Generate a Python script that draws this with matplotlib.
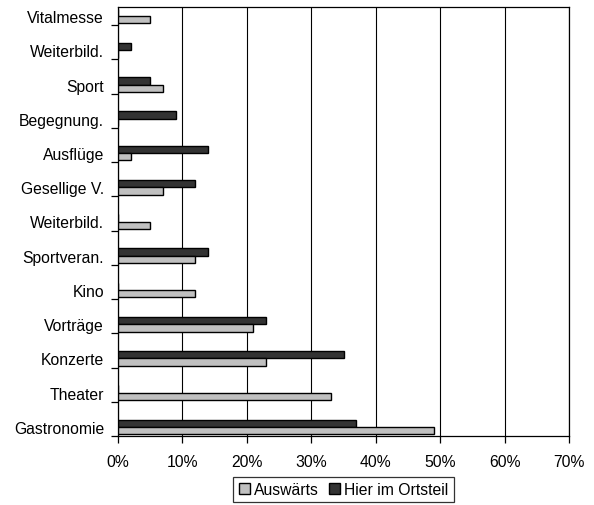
import matplotlib
matplotlib.use("Agg")
import matplotlib.pyplot as plt
from matplotlib.patches import Patch
import numpy as np

plt.rcParams['font.family'] = ['Liberation Sans', 'DejaVu Sans']

categories = ["Gastronomie", "Theater", "Konzerte", "Vorträge", "Kino", "Sportveran.",
              "Weiterbild.", "Gesellige V.", "Ausflüge", "Begegnung.", "Sport",
              "Weiterbild.", "Vitalmesse"]
auswaerts = [49, 33, 23, 21, 12, 12, 5, 7, 2, 0, 7, 0, 5]
hier = [37, 0, 35, 23, 0, 14, 0, 12, 14, 9, 5, 2, 0]
xticks = [0, 10, 20, 30, 40, 50, 60, 70]
xticklabels = ["0%", "10%", "20%", "30%", "40%", "50%", "60%", "70%"]

fig = plt.figure(figsize=(5.94, 5.06), dpi=100)
ax = fig.add_axes([118/594, 1-437/506, (569-118)/594, (437-8)/506])

y = np.arange(len(categories))
h = 0.215
ax.barh(y + h/2, hier, height=h, color="#333333", edgecolor="black", linewidth=1.0, zorder=3)
ax.barh(y - h/2, auswaerts, height=h, color="#c0c0c0", edgecolor="black", linewidth=1.0, zorder=3)

off = 9/34.2
ax.set_ylim(-off, len(categories) - 1 + off)
ax.set_xlim(0, 70)

ax.set_yticks(y - off)
ax.set_yticklabels([])
ax.set_yticks(y, minor=True)
ax.set_yticklabels(categories, minor=True, fontsize=11.3)
ax.tick_params(axis='y', which='major', length=5, width=0.9, direction='out')
ax.tick_params(axis='y', which='minor', length=0, pad=10)

ax.set_xticks(xticks)
ax.set_xticklabels(xticklabels, fontsize=11.3)
ax.tick_params(axis='x', length=5, width=0.9, pad=8)

ax.grid(axis='x', color='black', linewidth=0.8, zorder=0)
for s in ax.spines.values():
    s.set_color('black')
    s.set_linewidth(0.9)

handles = [Patch(facecolor="#c0c0c0", edgecolor="black", label="Auswärts"),
           Patch(facecolor="#333333", edgecolor="black", label="Hier im Ortsteil")]
leg = fig.legend(handles=handles, ncol=2, loc='center', bbox_to_anchor=(343.5/594, 1-490.5/506),
                 fontsize=11.3, frameon=True, fancybox=False, edgecolor='black',
                 handlelength=0.7, handleheight=0.7, handletextpad=0.3, columnspacing=0.6,
                 borderpad=0.35, borderaxespad=0)
leg.get_frame().set_linewidth(0.9)

fig.savefig("out.png", dpi=100)
